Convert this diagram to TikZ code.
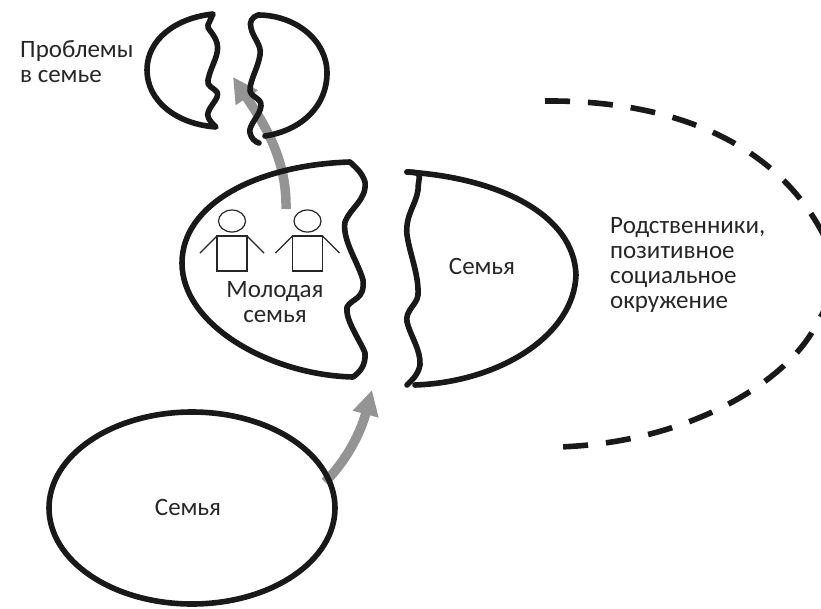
\documentclass[tikz,border=0pt]{standalone}
\usepackage{fontspec}
\setmainfont{Carlito}
\usetikzlibrary{arrows.meta}
\tikzset{
 shell/.style={line width=5.6pt,draw=black!90,line join=round,line cap=round},
 person/.style={line width=1.2pt,draw=black!85},
 garrow/.style={line width=9.5pt,draw=black!42,-{Triangle[length=25pt,width=25pt]}},
 lab/.style={font=\fontsize{25}{25}\selectfont,align=left,text=black!85,inner sep=0pt},
 labc/.style={lab,align=center}
}
\newcommand{\stickman}[1]{%
 \begin{scope}[shift={(#1,0)}]
  \draw[person] (232,221) ellipse [x radius=13.5,y radius=11];
  \draw[person] (217,236) rectangle (247,271);
  \draw[person] (217,236) -- (200,253);
  \draw[person] (247,236) -- (264,253);
 \end{scope}}
\begin{document}
\begin{tikzpicture}[x=1pt,y=-1pt]
\useasboundingbox (0,0) rectangle (821,608);
\clip (0,0) rectangle (821,608);
\coordinate (a1s) at (286,209);
\coordinate (a1e) at (233,77);
\coordinate (a2s) at (325,482);
\coordinate (a2e) at (372,390);
\draw[garrow] (a1s) .. controls (287,160) and (265,125) .. (a1e);
\draw[garrow] (a2s) .. controls (345,462) and (360,435) .. (a2e);
\draw[shell] (213,14) .. controls (175,18) and (147,40) .. (147,70)
  .. controls (147,100) and (175,124) .. (216,127)
  .. controls (208,120) and (207,115) .. (208,113)
  .. controls (210,105) and (220,98) .. (217,92)
  .. controls (214,88) and (206,86) .. (208,80)
  .. controls (211,65) and (220,55) .. (217,43)
  .. controls (214,33) and (206,28) .. (208,25)
  -- cycle;
\draw[shell] (265,136) .. controls (303,130) and (327,105) .. (327,73)
  .. controls (327,40) and (295,15) .. (258,15)
  .. controls (252,17) and (249,22) .. (251,28)
  .. controls (253,38) and (262,45) .. (260,55)
  .. controls (258,68) and (250,80) .. (250,90)
  .. controls (250,97) and (262,98) .. (261,106)
  .. controls (260,116) and (248,125) .. (250,133)
  .. controls (251,138) and (255,142) .. (259,143);
\draw[shell] (350,162) .. controls (255,165) and (182,205) .. (182,263)
  .. controls (182,325) and (270,375) .. (353,377)
  .. controls (360,372) and (366,365) .. (365,353)
  .. controls (360,340) and (345,320) .. (347,307)
  .. controls (352,298) and (365,300) .. (363,280)
  .. controls (358,262) and (342,240) .. (345,222)
  .. controls (350,208) and (367,200) .. (365,182)
  .. controls (362,172) and (355,167) .. (350,162) -- cycle;
\draw[shell] (407,172) .. controls (425,172) and (418,176) .. (418,190)
  .. controls (416,205) and (405,215) .. (407,235)
  .. controls (410,255) and (419,275) .. (418,295)
  .. controls (417,305) and (405,310) .. (407,322)
  .. controls (410,335) and (421,350) .. (420,365)
  .. controls (418,375) and (412,380) .. (407,385);
\draw[shell] (407,172) .. controls (500,178) and (574,215) .. (576,275)
  .. controls (574,335) and (500,382) .. (415,385);
\draw[shell] (192,508) ellipse [x radius=143,y radius=96];
\draw[shell,line cap=butt,dash pattern=on 25pt off 18pt] (545,101)
  .. controls (660,100) and (770,135) .. (822,232)
  .. controls (840,265) and (835,295) .. (817,323)
  .. controls (790,380) and (690,443) .. (558,447);
\stickman{0}
\stickman{75.5}
\node[lab,anchor=north west] (lp) at (20,40) {Проблемы\\в семье};
\node[labc] (lm) at (275,302) {Молодая\\семья};
\node[labc] (lf1) at (482,266) {Семья};
\node[labc] (lf2) at (188,507) {Семья};
\node[lab,anchor=north west] (lr) at (610,217) {Родственники,\\позитивное\\социальное\\окружение};
\end{tikzpicture}
\end{document}
